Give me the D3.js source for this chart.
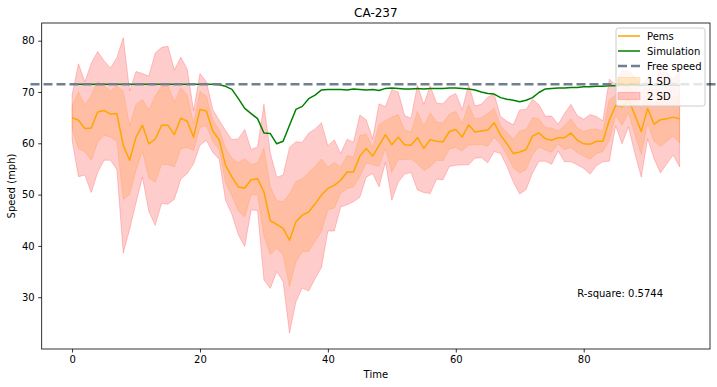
<!DOCTYPE html>
<html>
<head>
<meta charset="utf-8">
<script src="https://cdn.jsdelivr.net/npm/d3@7"></script>
<style>
  body { margin: 0; background: #fff; }
  svg { font-family: "DejaVu Sans", sans-serif; }
</style>
</head>
<body>
<script>
// time steps 0..95
var time = d3.range(96);

// pems mean speed (mph)
var pemsMean = [65.0, 64.5, 62.9, 63.0, 66.1, 66.4, 65.7, 65.8, 59.6, 56.7,
	61.2, 63.5, 59.9, 60.8, 63.5, 63.5, 61.7, 64.9, 64.3, 61.2,
	66.6, 66.3, 62.4, 60.7, 55.7, 53.4, 51.5, 51.3, 52.9, 53.1,
	50.5, 44.9, 44.2, 43.4, 41.1, 44.7, 46.0, 46.6, 48.2, 49.9,
	51.2, 51.8, 52.8, 54.4, 54.4, 57.5, 59.0, 57.5, 59.6, 61.7,
	59.7, 61.2, 59.7, 59.6, 61.1, 59.0, 60.7, 60.4, 60.3, 62.3,
	62.7, 61.2, 63.6, 62.2, 62.4, 62.6, 64.0, 61.6, 59.9, 58.0,
	58.3, 58.8, 61.4, 62.0, 60.9, 60.6, 61.1, 61.1, 62.0, 60.6,
	59.9, 59.8, 60.4, 60.4, 64.5, 67.4, 67.1, 68.6, 65.5, 62.3,
	66.8, 63.7, 64.6, 64.8, 65.1, 64.8];

// pems standard deviation
var pemsSd = [2.2, 5.5, 4.55, 6.3, 5.9, 4.85, 4.5, 5.45, 10.5, 6.75,
	6.4, 5.05, 6.6, 8.4, 7.6, 7.7, 6.3, 5.95, 5.1, 2.6,
	3.5, 2.85, 2.1, 1.9, 3.4, 3.65, 4.7, 5.7, 2.95, 3.1,
	8.55, 6.6, 4.6, 5.2, 9.05, 7.8, 7.1, 7.7, 7.3, 7.05,
	4.15, 4.45, 2.6, 3.2, 2.9, 4.0, 2.8, 1.7, 4.05, 2.7,
	5.4, 4.4, 2.85, 2.65, 5.1, 4.3, 5.25, 3.7, 3.7, 3.4,
	3.5, 2.7, 3.9, 2.55, 2.6, 3.2, 2.8, 1.8, 2.2, 2.8,
	4.1, 3.9, 3.6, 2.75, 2.2, 2.35, 1.3, 2.35, 2.8, 2.4,
	2.4, 2.9, 2.4, 2.0, 4.0, 2.0, 3.6, 2.7, 3.75, 4.45,
	2.95, 3.35, 5.2, 4.4, 3.7, 4.7];

// simulated speed (mph)
var simSpeed = [71.5, 71.5, 71.5, 71.5, 71.5, 71.5, 71.5, 71.5, 71.5, 71.5,
	71.5, 71.5, 71.5, 71.5, 71.5, 71.5, 71.5, 71.5, 71.5, 71.5,
	71.5, 71.5, 71.5, 71.4, 71.1, 70.5, 68.7, 66.8, 65.8, 64.8,
	62.0, 61.9, 59.9, 60.4, 63.5, 66.6, 67.2, 68.7, 69.4, 70.4,
	70.5, 70.5, 70.5, 70.4, 70.6, 70.5, 70.4, 70.5, 70.3, 70.7,
	70.8, 70.7, 70.6, 70.6, 70.7, 70.6, 70.7, 70.7, 70.7, 70.8,
	70.8, 70.7, 70.6, 70.4, 70.0, 69.7, 69.6, 68.9, 68.6, 68.4,
	68.1, 68.4, 68.9, 69.9, 70.6, 70.7, 70.8, 70.8, 70.9, 70.9,
	71.0, 71.0, 71.1, 71.1, 71.2, 71.2, 71.3, 71.3, 71.3, 71.3,
	71.3, 71.3, 71.3, 71.3, 71.3, 71.3];

var freeSpeed = 71.5;
var rSquare = 0.5744;

var xTicks = [0, 20, 40, 60, 80];
var yTicks = [30, 40, 50, 60, 70, 80];

var legendLabels = ["Pems", "Simulation", "Free speed", "1 SD", "2 SD"];

var W = 717, H = 387;
var box = {left: 41.7, right: 710, top: 23, bottom: 349};

var svg = d3.select("body").append("svg")
	.attr("width", W)
	.attr("height", H);

var x = d3.scaleLinear().domain([-4.75, 99.75]).range([box.left, box.right]);
var y = d3.scaleLinear().domain([19.9, 83.45]).range([box.bottom, box.top]);

var rows = time.map(function(t, i) {
	return {t: t, m: pemsMean[i], sd: pemsSd[i], sim: simSpeed[i]};
});

var plot = svg.append("g");

// clip to the axes
svg.append("clipPath").attr("id", "clip")
	.append("rect")
	.attr("x", box.left).attr("y", box.top)
	.attr("width", box.right - box.left).attr("height", box.bottom - box.top);

function band(k) {
	return d3.area()
		.x(function(d) { return x(d.t); })
		.y0(function(d) { return y(d.m - k * d.sd); })
		.y1(function(d) { return y(d.m + k * d.sd); });
}

// 1 SD and 2 SD bands
plot.append("path")
	.datum(rows)
	.attr("d", band(1))
	.attr("fill", "orange").attr("fill-opacity", 0.2)
	.attr("stroke", "orange").attr("stroke-opacity", 0.2)
	.attr("stroke-width", 1);

plot.append("path")
	.datum(rows)
	.attr("d", band(2))
	.attr("fill", "red").attr("fill-opacity", 0.2)
	.attr("stroke", "red").attr("stroke-opacity", 0.2)
	.attr("stroke-width", 1);

var pemsLine = d3.line()
	.x(function(d) { return x(d.t); })
	.y(function(d) { return y(d.m); });

var simLine = d3.line()
	.x(function(d) { return x(d.t); })
	.y(function(d) { return y(d.sim); });

plot.append("path")
	.datum(rows)
	.attr("d", pemsLine)
	.attr("fill", "none")
	.attr("stroke", "orange")
	.attr("stroke-width", 1.5)
	.attr("stroke-linejoin", "round");

plot.append("path")
	.datum(rows)
	.attr("d", simLine)
	.attr("fill", "none")
	.attr("stroke", "green")
	.attr("stroke-width", 1.5)
	.attr("stroke-linejoin", "round");

// free speed line (runs past the axes edges)
svg.append("line")
	.attr("x1", x(-6.5)).attr("x2", x(103))
	.attr("y1", y(freeSpeed)).attr("y2", y(freeSpeed))
	.attr("stroke", "slategray")
	.attr("stroke-width", 2.5)
	.attr("stroke-dasharray", "9,4");

// axes
var xAxis = d3.axisBottom(x).tickValues(xTicks).tickSize(3.5).tickPadding(3.5);
var yAxis = d3.axisLeft(y).tickValues(yTicks).tickSize(3.5).tickPadding(3.5);

var gx = svg.append("g")
	.attr("transform", "translate(0," + box.bottom + ")")
	.call(xAxis);
var gy = svg.append("g")
	.attr("transform", "translate(" + box.left + ",0)")
	.call(yAxis);

[gx, gy].forEach(function(g) {
	g.select(".domain").remove();
	g.selectAll(".tick line").attr("stroke", "#000").attr("stroke-width", 0.8);
	g.selectAll(".tick text")
		.attr("fill", "#000")
		.style("font-size", "10px")
		.style("font-family", "DejaVu Sans");
});

// frame
svg.append("rect")
	.attr("x", box.left).attr("y", box.top)
	.attr("width", box.right - box.left).attr("height", box.bottom - box.top)
	.attr("fill", "none")
	.attr("stroke", "#000")
	.attr("stroke-width", 0.8);

// titles
svg.append("text")
	.attr("x", (box.left + box.right) / 2).attr("y", 17)
	.attr("text-anchor", "middle")
	.style("font-size", "12px")
	.text("CA-237");

svg.append("text")
	.attr("x", (box.left + box.right) / 2).attr("y", 378)
	.attr("text-anchor", "middle")
	.style("font-size", "10px")
	.text("Time");

svg.append("text")
	.attr("transform", "translate(15," + ((box.top + box.bottom) / 2) + ") rotate(-90)")
	.attr("text-anchor", "middle")
	.style("font-size", "10px")
	.text("Speed (mph)");

svg.append("text")
	.attr("x", x(79)).attr("y", y(30))
	.style("font-size", "10px")
	.text("R-square: " + rSquare);

// legend
var lg = svg.append("g").attr("transform", "translate(616,28)");
lg.append("rect")
	.attr("width", 89).attr("height", 78)
	.attr("rx", 2.5)
	.attr("fill", "#fff").attr("fill-opacity", 0.8)
	.attr("stroke", "#ccc").attr("stroke-width", 1);

var handles = [
	{type: "line", color: "orange"},
	{type: "line", color: "green"},
	{type: "dash", color: "slategray"},
	{type: "patch", color: "orange"},
	{type: "patch", color: "red"}
];

legendLabels.forEach(function(lab, i) {
	var cy = 8 + i * 15;
	var h = handles[i];
	if (h.type == "patch") {
		lg.append("rect")
			.attr("x", 2).attr("y", cy - 3.5)
			.attr("width", 22).attr("height", 7)
			.attr("fill", h.color).attr("fill-opacity", 0.2)
			.attr("stroke", h.color).attr("stroke-opacity", 0.2);
	} else {
		lg.append("line")
			.attr("x1", 2).attr("x2", 24)
			.attr("y1", cy).attr("y2", cy)
			.attr("stroke", h.color)
			.attr("stroke-width", h.type == "dash" ? 2.5 : 1.5)
			.attr("stroke-dasharray", h.type == "dash" ? "9,4" : null);
	}
	lg.append("text")
		.attr("x", 31).attr("y", cy)
		.attr("dy", "0.35em")
		.style("font-size", "10px")
		.text(lab);
});
</script>
</body>
</html>
